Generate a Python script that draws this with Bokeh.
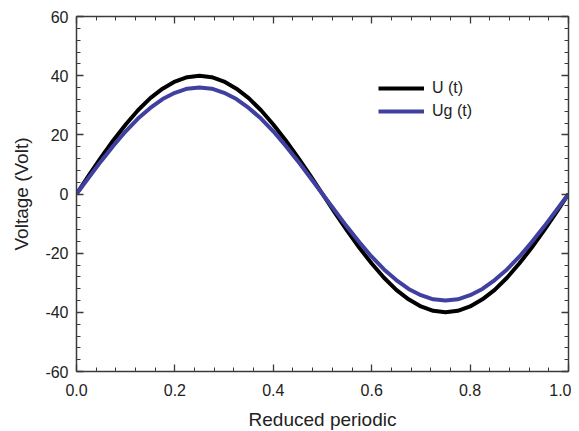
from bokeh.plotting import figure
from bokeh.models import (LinearAxis, SingleIntervalTicker, NumeralTickFormatter,
                          CustomJSTickFormatter, Legend, LegendItem, Range1d)
from bokeh.embed import file_html
from bokeh.resources import INLINE

# ---- data ----
x_vals = [0.000, 0.025, 0.050, 0.075, 0.100, 0.125, 0.150, 0.175, 0.200, 0.225,
          0.250, 0.275, 0.300, 0.325, 0.350, 0.375, 0.400, 0.425, 0.450, 0.475,
          0.500, 0.525, 0.550, 0.575, 0.600, 0.625, 0.650, 0.675, 0.700, 0.725,
          0.750, 0.775, 0.800, 0.825, 0.850, 0.875, 0.900, 0.925, 0.950, 0.975,
          1.000]
u_vals = [0.0, 6.3, 12.4, 18.2, 23.5, 28.3, 32.4, 35.6, 38.0, 39.5,
          40.0, 39.5, 38.0, 35.6, 32.4, 28.3, 23.5, 18.2, 12.4, 6.3,
          0.0, -6.3, -12.4, -18.2, -23.5, -28.3, -32.4, -35.6, -38.0, -39.5,
          -40.0, -39.5, -38.0, -35.6, -32.4, -28.3, -23.5, -18.2, -12.4, -6.3,
          0.0]
ug_vals = [0.0, 5.6, 11.1, 16.3, 21.2, 25.5, 29.1, 32.1, 34.2, 35.6,
           36.0, 35.6, 34.2, 32.1, 29.1, 25.5, 21.2, 16.3, 11.1, 5.6,
           0.0, -5.6, -11.1, -16.3, -21.2, -25.5, -29.1, -32.1, -34.2, -35.6,
           -36.0, -35.6, -34.2, -32.1, -29.1, -25.5, -21.2, -16.3, -11.1, -5.6,
           0.0]
series_labels = ["U (t)", "Ug (t)"]
x_label = "Reduced periodic"
y_label = "Voltage (Volt)"

FONT = "Liberation Sans"
AXC = "#3a3a3a"
TXT = "#222222"
BLUE = "#4040a0"

p = figure(frame_width=492, frame_height=355, output_backend="svg",
           toolbar_location=None, x_range=Range1d(0, 1), y_range=Range1d(-60, 60),
           min_border_left=76, min_border_top=16, min_border_right=3,
           min_border_bottom=10, x_axis_location=None, y_axis_location=None)
p.grid.visible = False
p.outline_line_color = None
p.background_fill_color = "white"
p.border_fill_color = "white"

xt = SingleIntervalTicker(interval=0.2, num_minor_ticks=5)
yt = SingleIntervalTicker(interval=20, num_minor_ticks=5)
blank = CustomJSTickFormatter(code="return '';")


def style(ax, show_labels):
    ax.axis_line_color = AXC
    ax.axis_line_width = 1.5
    ax.major_tick_line_color = AXC
    ax.minor_tick_line_color = AXC
    ax.major_tick_line_width = 1.3
    ax.minor_tick_line_width = 1.0
    ax.major_tick_in = 7
    ax.major_tick_out = 0
    ax.minor_tick_in = 4
    ax.minor_tick_out = 0
    ax.major_label_text_font = FONT
    ax.major_label_text_color = TXT
    ax.major_label_text_font_size = "16px"
    if not show_labels:
        ax.major_label_standoff = 0


xb = LinearAxis(ticker=xt, formatter=NumeralTickFormatter(format="0.0"))
style(xb, True)
xb.axis_label = x_label
xb.axis_label_text_font = FONT
xb.axis_label_text_font_size = "19px"
xb.axis_label_text_font_style = "normal"
xb.axis_label_text_color = TXT
xb.major_label_standoff = 12
xb.axis_label_standoff = 10
p.add_layout(xb, "below")

yl = LinearAxis(ticker=yt, formatter=NumeralTickFormatter(format="0"))
style(yl, True)
yl.axis_label = y_label
yl.axis_label_text_font = FONT
yl.axis_label_text_font_size = "19px"
yl.axis_label_text_font_style = "normal"
yl.axis_label_text_color = TXT
yl.major_label_standoff = 8
yl.axis_label_standoff = 10
p.add_layout(yl, "left")

xa = LinearAxis(ticker=xt, formatter=blank)
style(xa, False)
p.add_layout(xa, "above")
yr = LinearAxis(ticker=yt, formatter=blank)
style(yr, False)
p.add_layout(yr, "right")

r1 = p.line(x_vals, u_vals, line_color="black", line_width=4)
r2 = p.line(x_vals, ug_vals, line_color=BLUE, line_width=4)

legend = Legend(items=[LegendItem(label=series_labels[0], renderers=[r1]),
                       LegendItem(label=series_labels[1], renderers=[r2])],
                location=(302, 250), border_line_color=None,
                background_fill_alpha=0, padding=0, margin=0, spacing=3,
                glyph_width=46, glyph_height=20, label_standoff=8,
                label_text_font=FONT, label_text_font_size="16px",
                label_text_color=TXT)
p.add_layout(legend, "center")

open("out.html", "w").write(file_html(p, INLINE))
